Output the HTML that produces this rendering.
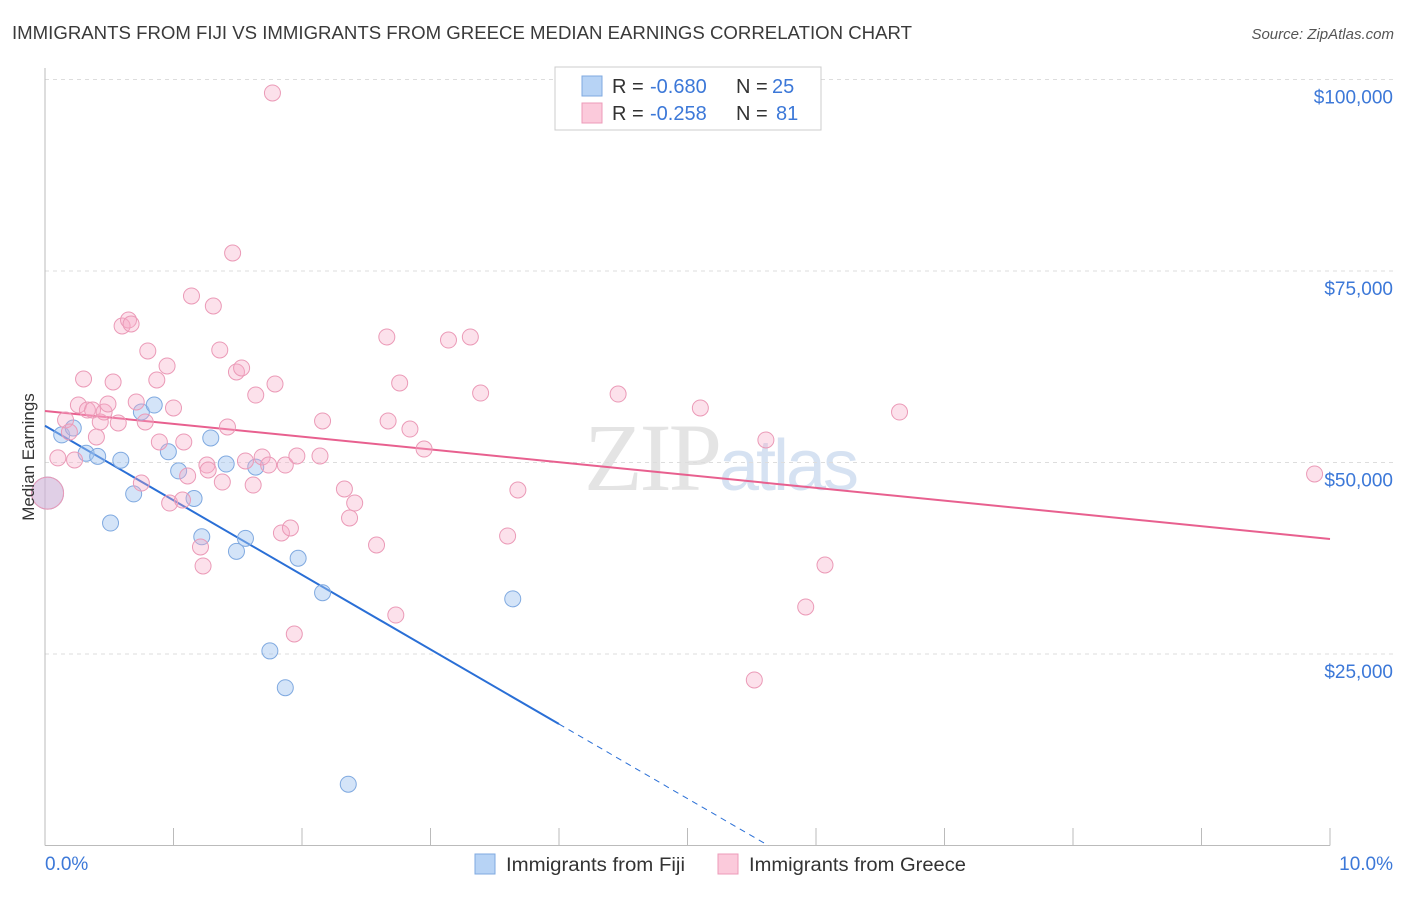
<!DOCTYPE html>
<html><head><meta charset="utf-8"><style>
body{margin:0;background:#fff;font-family:"Liberation Sans",sans-serif;}
</style></head><body>
<svg id="chart" width="1406" height="892" xmlns="http://www.w3.org/2000/svg" font-family="Liberation Sans, sans-serif">
<text x="12" y="39" font-size="18" fill="#3a3a3a" textLength="900" lengthAdjust="spacingAndGlyphs">IMMIGRANTS FROM FIJI VS IMMIGRANTS FROM GREECE MEDIAN EARNINGS CORRELATION CHART</text>
<text x="1394" y="39" font-size="15" fill="#555" font-style="italic" text-anchor="end">Source: ZipAtlas.com</text>
<text x="720" y="490" font-size="96" fill="#e4e4e4" text-anchor="middle" font-family="Liberation Serif, serif" letter-spacing="-3">ZIP<tspan fill="#d6e2f2" font-family="Liberation Sans, sans-serif" font-size="72">atlas</tspan></text>
<g id="grid"></g><g id="axes"></g><g id="trends"></g><g id="pts"></g>
<text transform="translate(34,457) rotate(-90)" font-size="17" fill="#333" text-anchor="middle">Median Earnings</text>
<g>
<rect x="555" y="67" width="266" height="63" fill="#fff" stroke="#ccc"/>
<rect x="582" y="76" width="20" height="20" fill="#b7d3f5" stroke="#7fa9e0"/>
<rect x="582" y="103" width="20" height="20" fill="#fbcadb" stroke="#ec9bb8"/>
<text x="612" y="93" font-size="20" fill="#333">R = </text><text x="650" y="93" font-size="20" fill="#3c78d8">-0.680</text>
<text x="736" y="93" font-size="20" fill="#333">N = </text><text x="772" y="93" font-size="20" fill="#3c78d8">25</text>
<text x="612" y="120" font-size="20" fill="#333">R = </text><text x="650" y="120" font-size="20" fill="#3c78d8">-0.258</text>
<text x="736" y="120" font-size="20" fill="#333">N = </text><text x="776" y="120" font-size="20" fill="#3c78d8">81</text>
</g>
<g>
<rect x="475" y="854" width="20" height="20" fill="#b7d3f5" stroke="#7fa9e0"/>
<text x="506" y="871" font-size="19" fill="#333" textLength="179" lengthAdjust="spacingAndGlyphs">Immigrants from Fiji</text>
<rect x="718" y="854" width="20" height="20" fill="#fbcadb" stroke="#ec9bb8"/>
<text x="749" y="871" font-size="19" fill="#333" textLength="217" lengthAdjust="spacingAndGlyphs">Immigrants from Greece</text>
</g>
<text x="45" y="870" font-size="19" fill="#3c78d8">0.0%</text>
<text x="1393" y="870" font-size="19" fill="#3c78d8" text-anchor="end">10.0%</text>
</svg>
<script>
const yTicks=[25000,50000,75000,100000];
const yTickLabels=["$25,000","$50,000","$75,000","$100,000"];
const xTicks=[0,1,2,3,4,5,6,7,8,9,10];
const fijiX=[0.02,0.13,0.22,0.32,0.41,0.51,0.59,0.69,0.75,0.85,0.96,1.04,1.16,1.22,1.29,1.41,1.49,1.56,1.64,1.75,1.87,1.97,2.16,2.36,3.64];
const fijiY=[46000,53600,54500,51200,50800,42100,50300,45900,56600,57500,51400,48900,45300,40300,53200,49800,38400,40100,49400,25400,20600,37500,33000,8000,32200];
const greeceX=[0.02,0.10,0.16,0.19,0.23,0.26,0.30,0.33,0.37,0.40,0.43,0.46,0.49,0.53,0.57,0.60,0.65,0.67,0.71,0.75,0.78,0.80,0.87,0.89,0.95,0.97,1.00,1.07,1.08,1.11,1.14,1.21,1.23,1.26,1.27,1.31,1.36,1.38,1.42,1.46,1.49,1.53,1.56,1.62,1.64,1.69,1.74,1.77,1.79,1.84,1.87,1.91,1.94,1.96,2.14,2.16,2.33,2.37,2.41,2.58,2.66,2.67,2.73,2.76,2.84,2.95,3.14,3.31,3.39,3.60,3.68,4.46,5.10,5.61,5.52,5.92,6.07,6.65,9.88];
const greeceY=[46000,50600,55550,53980,50330,57510,60900,56850,56850,53330,55290,56590,57640,60510,55160,67820,68600,68080,57900,47320,55290,64560,60770,52680,62600,44710,57120,45100,52680,48240,71740,38970,36490,49670,49020,70430,64690,47450,54640,77350,61820,62340,50200,47060,58810,50720,49670,98240,60250,40800,49670,41450,27610,50850,50850,55420,46540,42760,44710,39230,66390,55420,30090,60380,54370,51760,65990,66390,59070,40410,46410,58940,57120,52940,21610,31140,36620,56590,48500];
const fijiTrend=[54800,-9735];
const greeceTrend=[56720,-1671];
const NS="http://www.w3.org/2000/svg";
const X0=45,X1=1330,YB=845.5,YT=79.5;
const sx=v=>X0+(X1-X0)*v/10;
const sy=v=>YB-(YB-YT)*v/100000;
function mk(tag,attrs,parent){const e=document.createElementNS(NS,tag);for(const k in attrs)e.setAttribute(k,attrs[k]);document.getElementById(parent).appendChild(e);return e;}
yTicks.forEach((t,i)=>{
 const l=mk('line',{x1:X0,x2:1394,y1:sy(t),y2:sy(t),stroke:'#ddd','stroke-dasharray':'4,4'},'grid');
 
 
 const tx=mk('text',{x:1393,y:sy(t)+24,'font-size':19,fill:'#3c78d8','text-anchor':'end'},'grid');
 tx.textContent=yTickLabels[i];
 
 
});
const ax=mk('line',{x1:X0,x2:X1,y1:YB,y2:YB,stroke:'#bbb'},'axes');


const ay=mk('line',{x1:X0,x2:X0,y1:68,y2:YB,stroke:'#bbb'},'axes');


xTicks.forEach(t=>{
 const l=mk('line',{x1:sx(t),x2:sx(t),y1:YB,y2:828,stroke:'#bbb'},'axes');
 
 
});
function pts(xs,ys,fill,stroke,name){
 xs.forEach((x,i)=>{
  const big=i===0;
  const c=mk('circle',{cx:sx(x),cy:sy(ys[i]),r:big?16:8,fill:fill,stroke:stroke,'stroke-width':1},'pts');
  
  
 });
}
pts(fijiX,fijiY,'rgba(160,196,240,0.45)','#7fa9e0','fiji-point');
pts(greeceX,greeceY,'rgba(246,170,197,0.35)','#eb9ab7','greece-point');
const gt=mk('line',{x1:sx(0),y1:sy(greeceTrend[0]),x2:sx(10),y2:sy(greeceTrend[0]+greeceTrend[1]*10),stroke:'#e8608f','stroke-width':2},'trends');


const ft=mk('line',{x1:sx(0),y1:sy(fijiTrend[0]),x2:sx(4),y2:sy(fijiTrend[0]+fijiTrend[1]*4),stroke:'#2a6fd6','stroke-width':2},'trends');


const xe=-fijiTrend[0]/fijiTrend[1];
const fd=mk('line',{x1:sx(4),y1:sy(fijiTrend[0]+fijiTrend[1]*4),x2:sx(xe),y2:sy(0),stroke:'#2a6fd6','stroke-width':1,'stroke-dasharray':'6,5'},'trends');


</script>
</body></html>
